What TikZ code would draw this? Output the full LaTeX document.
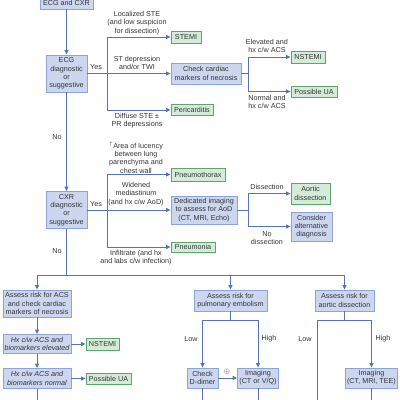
\documentclass[tikz,border=0pt]{standalone}
\usepackage{fontspec}
\setmainfont{Liberation Sans}
\usetikzlibrary{arrows.meta}
\definecolor{lineblue}{HTML}{5573B5}
\definecolor{boxblue}{HTML}{8DA5D6}
\definecolor{fillblue}{HTML}{CCD7EF}
\definecolor{boxgreen}{HTML}{5FA36F}
\definecolor{fillgreen}{HTML}{D5EBDA}
\definecolor{textgray}{HTML}{333333}
\begin{document}
\begin{tikzpicture}[x=1pt, y=-1pt,
  every node/.style={font=\fontsize{7.2}{8.2}\selectfont, text=textgray},
  bluebox/.style={draw=boxblue, fill=fillblue, align=center, inner sep=0pt, line width=0.8pt},
  greenbox/.style={draw=boxgreen, fill=fillgreen, align=center, inner sep=0pt, line width=0.8pt},
  lbl/.style={align=center, inner sep=0pt},
  link/.style={draw=lineblue, line width=1pt},
  arr/.style={link, -{Triangle[length=4.5pt,width=4pt]}}]
\useasboundingbox (0,0) rectangle (400,400);

% first column
\node[bluebox, minimum width=53pt, minimum height=12pt] (ecgcxr) at (66.5,3) {ECG and CXR};
\node[bluebox, minimum width=41pt, minimum height=37pt] (ecg) at (66.5,73.5) {ECG\\diagnostic\\or\\suggestive};
\node[bluebox, minimum width=41pt, minimum height=37pt] (cxr) at (66.5,210) {CXR\\diagnostic\\or\\suggestive};
\node[lbl] (yes1) at (96,67) {Yes};
\node[lbl] (no1) at (57,137) {No};
\node[lbl] (yes2) at (96,204) {Yes};
\node[lbl] (no2) at (57,251) {No};

% ECG branch
\node[greenbox, minimum width=30pt, minimum height=12pt] (stemi) at (186,37) {STEMI};
\node[bluebox, minimum width=70pt, minimum height=21pt] (check) at (206,73.5) {Check cardiac\\markers of necrosis};
\node[greenbox, minimum width=42pt, minimum height=11pt] (peri) at (192,110) {Pericarditis};
\node[greenbox, minimum width=34pt, minimum height=12pt] (nstemi1) at (308,57) {NSTEMI};
\node[greenbox, minimum width=46pt, minimum height=11pt] (ua1) at (314,91.5) {Possible UA};
\node[lbl] (lblstemi) at (137,23) {Localized STE\\(and low suspicion\\for dissection)};
\node[lbl] (lblcheck) at (137,63) {ST depression\\and/or TWI};
\node[lbl] (lblperi) at (137,121) {Diffuse STE ±\\PR depressions};
\node[lbl] (lblnst1) at (267,46) {Elevated and\\hx c/w ACS};
\node[lbl] (lblua1) at (267,102) {Normal and\\hx c/w ACS};

% CXR branch
\node[greenbox, minimum width=54pt, minimum height=13pt] (pneumo) at (198,174.5) {Pneumothorax};
\node[bluebox, minimum width=66pt, minimum height=28pt] (dedic) at (204,210) {Dedicated imaging\\to assess for AoD\\(CT, MRI, Echo)};
\node[greenbox, minimum width=44pt, minimum height=10pt] (pneumonia) at (193,247) {Pneumonia};
\node[greenbox, minimum width=39pt, minimum height=21pt] (aortic) at (310.5,193.5) {Aortic\\dissection};
\node[bluebox, minimum width=41pt, minimum height=29pt] (consider) at (311.5,226.5) {Consider\\alternative\\diagnosis};
\node[lbl] (lblpnx) at (136,157.5) {$^{\uparrow}$Area of lucency\\between lung\\parenchyma and\\chest wall};
\node[lbl] (lbldedic) at (136,194) {Widened\\mediastinum\\(and hx c/w AoD)};
\node[lbl] (lblpna) at (136,257.5) {Infiltrate (and hx\\and labs c/w infection)};
\node[lbl] (lbldiss) at (267,187) {Dissection};
\node[lbl] (lblnodiss) at (267,238) {No\\dissection};

% risk assessment
\node[bluebox, minimum width=68pt, minimum height=27pt] (acs) at (37,303.5) {Assess risk for ACS\\and check cardiac\\markers of necrosis};
\node[bluebox, minimum width=68pt, minimum height=19pt, font=\fontsize{7.2}{8.2}\selectfont\itshape] (hxel) at (37,344) {Hx c/w ACS and\\biomarkers elevated};
\node[bluebox, minimum width=68pt, minimum height=20pt, font=\fontsize{7.2}{8.2}\selectfont\itshape] (hxno) at (37,378.5) {Hx c/w ACS and\\biomarkers normal};
\node[greenbox, minimum width=33pt, minimum height=12pt] (nstemi2) at (102.5,344) {NSTEMI};
\node[greenbox, minimum width=45pt, minimum height=11pt] (ua2) at (108.5,378.5) {Possible UA};
\node[bluebox, minimum width=73pt, minimum height=21pt] (pe) at (230.5,300.5) {Assess risk for\\pulmonary embolism};
\node[bluebox, minimum width=31pt, minimum height=20pt] (ddimer) at (202.5,378) {Check\\D-dimer};
\node[bluebox, minimum width=41pt, minimum height=20pt] (imgpe) at (258,378) {Imaging\\(CT or V/Q)};
\node[bluebox, minimum width=59pt, minimum height=21pt] (ad) at (344.5,300.5) {Assess risk for\\aortic dissection};
\node[bluebox, minimum width=52pt, minimum height=20pt] (imgad) at (371.5,378) {Imaging\\(CT, MRI, TEE)};
\node[lbl] (low1) at (191,339) {Low};
\node[lbl] (high1) at (269,339) {High};
\node[lbl] (low2) at (305,339) {Low};
\node[lbl] (high2) at (383,339) {High};
\node[lbl] (plus) at (227,372) {$\oplus$};

\coordinate (br1) at (107,73.5);
\coordinate (br2) at (248,73.5);
\coordinate (br3) at (107,210);
\coordinate (br4) at (248,210);
\coordinate (split) at (66.5,275);
\coordinate (splitL) at (37,275);
\coordinate (splitR) at (344.5,275);
\coordinate (pesplit) at (230.5,320);
\coordinate (adsplit) at (344.5,320);
\coordinate (adlow) at (317,320);
\coordinate (acsbot) at (37,405);
\coordinate (ddbot) at (202.5,405);
\coordinate (imgpebot) at (258,405);
\coordinate (adlowbot) at (317,405);
\coordinate (imgadbot) at (371.5,405);

\draw[arr] (ecgcxr.south) -- (ecg.north);
\draw[arr] (ecg.south) -- (cxr.north);
\draw[arr] (ecg.east) -- (check.west);
\draw[arr] (br1) |- (stemi.west);
\draw[arr] (br1) |- (peri.west);
\draw[link] (check.east) -- (br2);
\draw[arr] (br2) |- (nstemi1.west);
\draw[arr] (br2) |- (ua1.west);

\draw[arr] (cxr.east) -- (dedic.west);
\draw[arr] (br3) |- (pneumo.west);
\draw[arr] (br3) |- (pneumonia.west);
\draw[link] (dedic.east) -- (br4);
\draw[arr] (br4) |- (aortic.west);
\draw[arr] (br4) |- (consider.west);

\draw[link] (cxr.south) -- (split);
\draw[link] (splitL) -- (splitR);
\draw[arr] (splitL) -- (acs.north);
\draw[arr] (pe.north |- split) -- (pe.north);
\draw[arr] (splitR) -- (ad.north);

\draw[arr] (acs.south) -- (hxel.north);
\draw[arr] (hxel.south) -- (hxno.north);
\draw[link] (hxno.south) -- (acsbot);
\draw[arr] (hxel.east) -- (nstemi2.west);
\draw[arr] (hxno.east) -- (ua2.west);

\draw[link] (pe.south) -- (pesplit);
\draw[link] (ddimer.north |- pesplit) -- (imgpe.north |- pesplit);
\draw[arr] (ddimer.north |- pesplit) -- (ddimer.north);
\draw[arr] (imgpe.north |- pesplit) -- (imgpe.north);
\draw[arr] (ddimer.east) -- (imgpe.west);
\draw[link] (ddimer.south) -- (ddbot);
\draw[link] (imgpe.south) -- (imgpebot);

\draw[link] (ad.south) -- (adsplit);
\draw[link] (adlow) -- (imgad.north |- adsplit);
\draw[arr] (imgad.north |- adsplit) -- (imgad.north);
\draw[link] (adlow) -- (adlowbot);
\draw[link] (imgad.south) -- (imgadbot);
\end{tikzpicture}
\end{document}
